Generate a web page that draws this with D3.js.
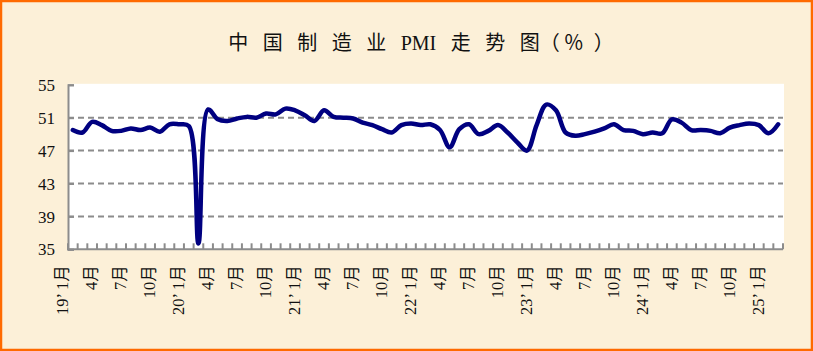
<!DOCTYPE html>
<html>
<head>
<meta charset="utf-8">
<script src="https://cdn.jsdelivr.net/npm/d3@7"></script>
<style>
  html, body { margin: 0; padding: 0; background: #fcf0d8; }
  svg { display: block; }
</style>
</head>
<body>
<svg id="chart" width="813" height="351"></svg>
<script>
// months from 2019-01 to 2025-02
const years = [2019, 2020, 2021, 2022, 2023, 2024, 2025];
const pmiValues = [
  49.5, 49.2, 50.5, 50.1, 49.4, 49.4, 49.7, 49.5, 49.8, 49.3, 50.2, 50.2,
  50.0, 35.7, 52.0, 50.8, 50.6, 50.9, 51.1, 51.0, 51.5, 51.4, 52.1, 51.9,
  51.3, 50.6, 51.9, 51.1, 51.0, 50.9, 50.4, 50.1, 49.6, 49.2, 50.1, 50.3,
  50.1, 50.2, 49.5, 47.4, 49.6, 50.2, 49.0, 49.4, 50.1, 49.2, 48.0, 47.0,
  50.1, 52.6, 51.9, 49.2, 48.8, 49.0, 49.3, 49.7, 50.2, 49.5, 49.4, 49.0,
  49.2, 49.1, 50.8, 50.4, 49.5, 49.5, 49.4, 49.1, 49.8, 50.1, 50.3, 50.1,
  49.1, 50.2
];
const yTicks = [35, 39, 43, 47, 51, 55];
const labelMonths = [1, 4, 7, 10];
const titleTokens = ["中", "国", "制", "造", "业", "PMI", "走", "势", "图", "（", "％", "）"];
// space after each title token
const titleGaps = [14.5, 14.5, 14.5, 14.5, 14.5, 14.5, 14.5, 14.5, 0, 4, 10, 0];

const width = 813, height = 351;
const margin = { top: 84.8, right: 30, bottom: 101.7, left: 68 };

const svg = d3.select("#chart");

// background + border
svg.append("rect")
  .attr("width", width).attr("height", height)
  .attr("fill", "#fcf0d8");
svg.append("rect")
  .attr("x", 1).attr("y", 1)
  .attr("width", width - 2).attr("height", height - 2)
  .attr("fill", "none")
  .attr("stroke", "#ff6a00")
  .attr("stroke-width", 2.5);

// build category list
const months = pmiValues.map((v, i) => ({
  year: years[0] + Math.floor(i / 12),
  month: (i % 12) + 1,
  value: v,
  key: i
}));

const x = d3.scaleBand()
  .domain(months.map(d => d.key))
  .range([margin.left, width - margin.right])
  .paddingInner(0).paddingOuter(0);

const y = d3.scaleLinear()
  .domain([35, 55])
  .range([height - margin.bottom, margin.top]);

// plot area
svg.append("rect")
  .attr("x", margin.left).attr("y", margin.top - 1)
  .attr("width", width - margin.right - margin.left + 1)
  .attr("height", height - margin.bottom - margin.top + 1)
  .attr("fill", "#ffffff");

// gridlines
svg.append("g")
  .selectAll("line")
  .data(yTicks.filter(t => t > 35 && t < 55))
  .join("line")
  .attr("x1", margin.left)
  .attr("x2", width - margin.right)
  .attr("y1", d => y(d))
  .attr("y2", d => y(d))
  .attr("stroke", "#8c8c8c")
  .attr("stroke-width", 2)
  .attr("stroke-dasharray", "6,4");

// y axis
const yAxis = svg.append("g")
  .attr("transform", `translate(${margin.left},0)`)
  .call(d3.axisRight(y).tickValues(yTicks).tickSize(6).tickFormat(""));
yAxis.select(".domain").attr("stroke", "#8c8c8c").attr("stroke-width", 2);
yAxis.selectAll(".tick line").attr("stroke", "#8c8c8c").attr("stroke-width", 2);

svg.append("g")
  .selectAll("text")
  .data(yTicks)
  .join("text")
  .attr("x", margin.left - 13)
  .attr("y", d => y(d))
  .attr("dy", "0.36em")
  .attr("text-anchor", "end")
  .attr("font-family", "'Liberation Serif', serif")
  .attr("font-size", 17)
  .attr("fill", "#111")
  .text(d => d);

// x axis ticks at category boundaries
const xAxisG = svg.append("g");
const bounds = months.map(d => x(d.key)).concat([x(months[months.length - 1].key) + x.bandwidth()]);
xAxisG.selectAll("line")
  .data(bounds)
  .join("line")
  .attr("x1", d => d).attr("x2", d => d)
  .attr("y1", y(35)).attr("y2", y(35) - 6)
  .attr("stroke", "#8c8c8c")
  .attr("stroke-width", 2);
xAxisG.append("line")
  .attr("x1", margin.left - 1).attr("x2", width - margin.right)
  .attr("y1", y(35)).attr("y2", y(35))
  .attr("stroke", "#8c8c8c")
  .attr("stroke-width", 2);

// x labels (rotated)
const labelData = months.filter(d => labelMonths.includes(d.month));
svg.append("g")
  .selectAll("text")
  .data(labelData)
  .join("text")
  .attr("transform", d => {
    const cx = x(d.key) + x.bandwidth() / 2 - 10.5;
    return `translate(${cx},${y(35) + 16}) rotate(-90)`;
  })
  .attr("dy", "0.36em")
  .attr("text-anchor", "end")
  .attr("font-family", "'Liberation Serif', 'Noto Sans CJK SC', serif")
  .attr("font-size", 16.5)
  .attr("fill", "#111")
  .text(d => d.month === 1 ? `${String(d.year).slice(2)}’ 1月` : `${d.month}月`);

// PMI line
const line = d3.line()
  .x(d => x(d.key) + x.bandwidth() / 2)
  .y(d => y(d.value))
  .curve(d3.curveCatmullRom.alpha(0.5));

svg.append("path")
  .datum(months)
  .attr("fill", "none")
  .attr("stroke", "#000080")
  .attr("stroke-width", 4.5)
  .attr("stroke-linejoin", "round")
  .attr("stroke-linecap", "round")
  .attr("d", line);

// title, laid out token by token
const title = svg.append("g");
const tokens = title.selectAll("text")
  .data(titleTokens)
  .join("text")
  .attr("y", 43)
  .attr("dy", "0.35em")
  .attr("font-family", "'Liberation Serif', 'Noto Sans CJK SC', serif")
  .attr("font-size", 20)
  .attr("fill", "#111")
  .text(d => d);

let widths = [];
tokens.each(function() { widths.push(this.getComputedTextLength()); });
const total = d3.sum(widths) + d3.sum(titleGaps.slice(0, -1));
let cursor = 421 - total / 2;
tokens.attr("x", (d, i) => {
  const pos = cursor;
  cursor += widths[i] + titleGaps[i];
  return pos;
});
</script>
</body>
</html>
